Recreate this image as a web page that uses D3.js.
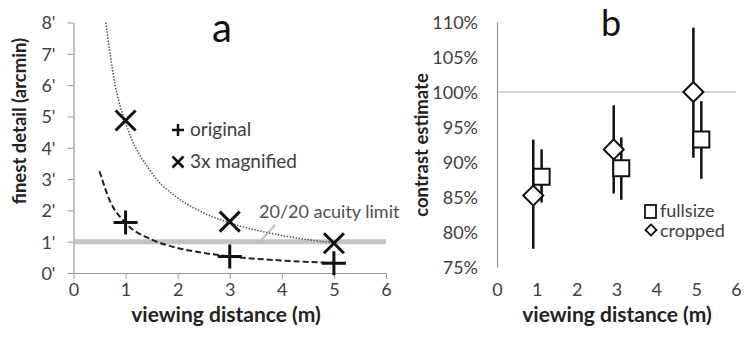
<!DOCTYPE html>
<html>
<head>
<meta charset="utf-8">
<script src="https://cdn.jsdelivr.net/npm/d3@7"></script>
<style>
  body { margin: 0; background: #fff; }
  svg { font-family: Lato, "Open Sans", sans-serif; }
</style>
</head>
<body>
<div id="chart"></div>
<script>
// Panel a: finest detail vs distance
const distA = [1, 3, 5];
const original = [1.61, 0.53, 0.31];
const magnified = [4.87, 1.64, 0.95];
// fitted curves
const curveOriginal = [[0.5, 3.25], [0.7, 2.3], [1, 1.6], [1.5, 1.07], [2, 0.8], [2.5, 0.64], [3, 0.53], [4, 0.4], [5, 0.32]];
const curveMagnified = [[0.62, 8], [0.8, 6], [1, 4.8], [1.5, 3.2], [2, 2.4], [2.5, 1.92], [3, 1.6], [4, 1.2], [5, 0.96]];
const acuity = 1;
const ticksA = [0, 1, 2, 3, 4, 5, 6, 7, 8];
const ticksX = [0, 1, 2, 3, 4, 5, 6];

// Panel b: contrast estimate
const fullsizeX = [1.12, 3.12, 5.13];
const fullsize = [87.9, 89.1, 93.2];
const fullsizeLo = [84.2, 84.6, 87.6];
const fullsizeHi = [91.8, 93.5, 98.7];
const croppedX = [0.91, 2.93, 4.93];
const cropped = [85.2, 91.8, 100];
const croppedLo = [77.6, 85.5, 90.6];
const croppedHi = [93.2, 98.1, 109.2];
const ticksB = [75, 80, 85, 90, 95, 100, 105, 110];

const svg = d3.select("#chart").append("svg")
    .attr("width", 745).attr("height", 337);

const txt = "#404040";
const fmt = d3.format("d");

// ---------- panel a ----------
const xA = d3.scaleLinear().domain([0, 6]).range([73.5, 386]);
const yA = d3.scaleLinear().domain([0, 8]).range([273, 22.5]);

const axA = svg.append("g").attr("transform", "translate(0,273)")
    .call(d3.axisBottom(xA).tickValues(ticksX).tickSize(6).tickPadding(4).tickSizeOuter(0).tickFormat(fmt));
const ayA = svg.append("g").attr("transform", "translate(73.5,0)")
    .call(d3.axisLeft(yA).tickValues(ticksA).tickSize(6).tickPadding(12).tickSizeOuter(0)
        .tickFormat(d => d + "'"));
[axA, ayA].forEach(g => {
    g.select(".domain").attr("stroke", "#999").attr("stroke-width", 1.2);
    g.selectAll(".tick line").attr("stroke", "#999");
    g.selectAll("text").attr("font-size", 18).attr("fill", txt).attr("font-family", "Lato");
});
ayA.selectAll(".tick text").attr("dy", "0.35em");

// acuity limit band
svg.append("line")
    .attr("x1", xA(0)).attr("x2", xA(6))
    .attr("y1", yA(acuity)).attr("y2", yA(acuity))
    .attr("stroke", "#c4c4c4").attr("stroke-width", 5);

const line = d3.line().x(d => xA(d[0])).y(d => yA(d[1])).curve(d3.curveMonotoneX);

svg.append("path").datum(curveMagnified)
    .attr("d", line).attr("fill", "none")
    .attr("stroke", "#555").attr("stroke-width", 1.5).attr("stroke-dasharray", "1.5,1.5");
svg.append("path").datum(curveOriginal)
    .attr("d", line).attr("fill", "none")
    .attr("stroke", "#222").attr("stroke-width", 2).attr("stroke-dasharray", "6,3");

// acuity label + leader
svg.append("line")
    .attr("x1", 260).attr("y1", yA(acuity)).attr("x2", 275).attr("y2", 225)
    .attr("stroke", "#bbb").attr("stroke-width", 2);
svg.append("text").attr("x", 259).attr("y", 218)
    .attr("font-size", 18).attr("fill", "#505050").text("20/20 acuity limit");

const plus = (g, cx, cy, r, w) => g.append("path")
    .attr("d", `M${cx - r},${cy}H${cx + r}M${cx},${cy - r}V${cy + r}`)
    .attr("stroke", "#111").attr("stroke-width", w).attr("fill", "none");
const cross = (g, cx, cy, r, w) => g.append("path")
    .attr("d", `M${cx - r},${cy - r}L${cx + r},${cy + r}M${cx - r},${cy + r}L${cx + r},${cy - r}`)
    .attr("stroke", "#111").attr("stroke-width", w).attr("fill", "none");

distA.forEach((d, i) => {
    plus(svg, xA(d), yA(original[i]), 12, 3);
    cross(svg, xA(d), yA(magnified[i]), 10, 3);
});

// legend a
plus(svg, 178, 130, 6, 2.5);
cross(svg, 178, 162, 5.5, 2.5);
svg.append("text").attr("x", 190).attr("y", 136).attr("font-size", 19).attr("fill", txt).text("original");
svg.append("text").attr("x", 190).attr("y", 168).attr("font-size", 19).attr("fill", txt).text("3x magnified");

svg.append("text").attr("x", 212).attr("y", 42).attr("font-size", 40).attr("fill", "#111").text("a");

svg.append("text")
    .attr("transform", "translate(26,121) rotate(-90)")
    .attr("text-anchor", "middle").attr("font-size", 18.5).attr("font-weight", "bold").attr("fill", "#222")
    .text("finest detail (arcmin)");
svg.append("text").attr("x", 226).attr("y", 322)
    .attr("text-anchor", "middle").attr("font-size", 21).attr("font-weight", "bold").attr("fill", "#222")
    .text("viewing distance  (m)");

// ---------- panel b ----------
const xB = d3.scaleLinear().domain([0, 6]).range([497, 736]);
const yB = d3.scaleLinear().domain([75, 110]).range([267, 22]);

const axB = svg.append("g").attr("transform", "translate(0,267)")
    .call(d3.axisBottom(xB).tickValues(ticksX).tickSize(0).tickPadding(16).tickFormat(fmt));
axB.select(".domain").remove();
const ayB = svg.append("g").attr("transform", "translate(497,0)")
    .call(d3.axisLeft(yB).tickValues(ticksB).tickSize(0).tickPadding(19).tickFormat(d => d + "%"));
ayB.select(".domain").attr("stroke", "#999").attr("stroke-width", 1.2);
[axB, ayB].forEach(g => g.selectAll("text").attr("font-size", 18).attr("fill", txt).attr("font-family", "Lato"));
ayB.selectAll(".tick text").attr("dy", "0.35em");

svg.append("line")
    .attr("x1", xB(0)).attr("x2", xB(6)).attr("y1", yB(100)).attr("y2", yB(100))
    .attr("stroke", "#aaa").attr("stroke-width", 1.2);

// error bars
const bars = svg.append("g").attr("stroke", "#111").attr("stroke-width", 2.5);
fullsizeX.forEach((x, i) => bars.append("line")
    .attr("x1", xB(x)).attr("x2", xB(x)).attr("y1", yB(fullsizeLo[i])).attr("y2", yB(fullsizeHi[i])));
croppedX.forEach((x, i) => bars.append("line")
    .attr("x1", xB(x)).attr("x2", xB(x)).attr("y1", yB(croppedLo[i])).attr("y2", yB(croppedHi[i])));

const square = d3.symbol().type(d3.symbolSquare).size(256);
const diamond = d3.symbol().type(d3.symbolSquare).size(200);

fullsizeX.forEach((x, i) => svg.append("path")
    .attr("d", square).attr("transform", `translate(${xB(x)},${yB(fullsize[i])})`)
    .attr("fill", "#fff").attr("stroke", "#111").attr("stroke-width", 2));
croppedX.forEach((x, i) => svg.append("path")
    .attr("d", diamond).attr("transform", `translate(${xB(x)},${yB(cropped[i])}) rotate(45)`)
    .attr("fill", "#fff").attr("stroke", "#111").attr("stroke-width", 2));

// legend b
svg.append("rect").attr("x", 645).attr("y", 205).attr("width", 11).attr("height", 13)
    .attr("fill", "#fff").attr("stroke", "#111").attr("stroke-width", 1.8);
svg.append("path").attr("d", d3.symbol().type(d3.symbolSquare).size(60))
    .attr("transform", "translate(651,230) rotate(45)")
    .attr("fill", "#fff").attr("stroke", "#111").attr("stroke-width", 1.8);
svg.append("text").attr("x", 660).attr("y", 217).attr("font-size", 18).attr("fill", txt).text("fullsize");
svg.append("text").attr("x", 660).attr("y", 237).attr("font-size", 18).attr("fill", txt).text("cropped");

svg.append("text").attr("x", 601).attr("y", 36).attr("font-size", 36).attr("fill", "#111").text("b");

svg.append("text")
    .attr("transform", "translate(428,145) rotate(-90)")
    .attr("text-anchor", "middle").attr("font-size", 18.5).attr("font-weight", "bold").attr("fill", "#222")
    .text("contrast estimate");
svg.append("text").attr("x", 617).attr("y", 322)
    .attr("text-anchor", "middle").attr("font-size", 21).attr("font-weight", "bold").attr("fill", "#222")
    .text("viewing distance  (m)");
</script>
</body>
</html>
